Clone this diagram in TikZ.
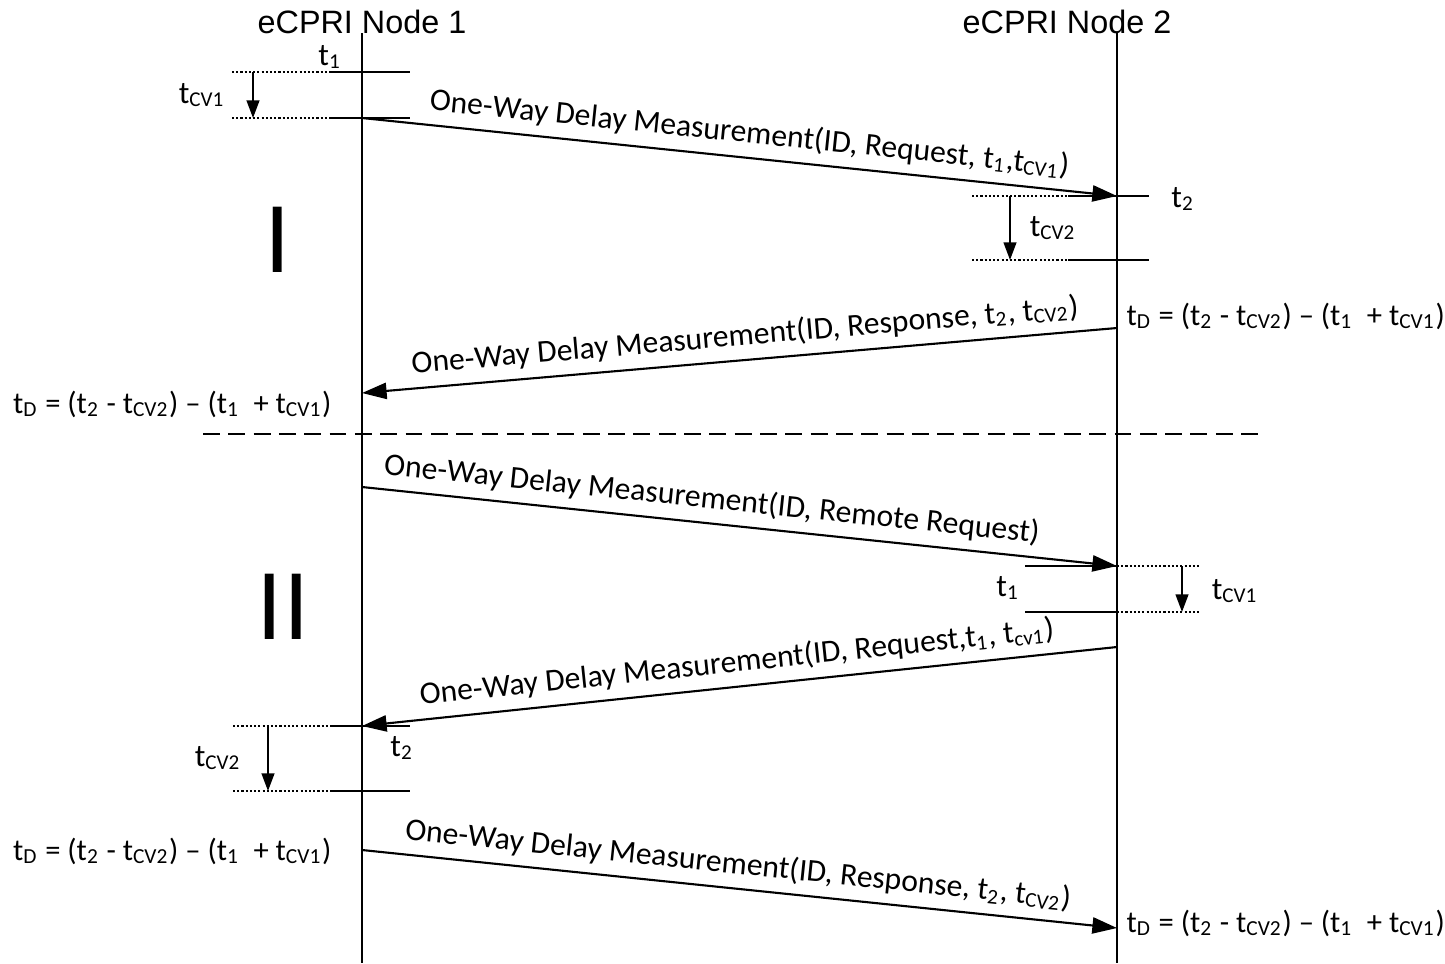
\documentclass[tikz,border=0pt]{standalone}
\usepackage{fontspec}
\setmainfont{Carlito}
\newfontfamily\headfont{Liberation Sans}
\usetikzlibrary{arrows.meta}

\newcommand{\tsub}[1]{t\textsubscript{#1}}
\newcommand{\tdelay}{\tsub{D} = (\tsub{2} - \tsub{CV2}) \textendash{} (\tsub{1}\ \ + \tsub{CV1})}

\begin{document}
\begin{tikzpicture}[x=0.01cm, y=-0.01cm, line width=0.6pt,
    every node/.style={font=\fontsize{9}{10}\selectfont, inner sep=1pt},
    msg/.style={-{Triangle[length=7pt, width=4.6pt]}},
    delay/.style={-{Triangle[length=5pt, width=3.6pt]}},
    guide/.style={line width=0.4pt, dash pattern=on 0.6pt off 0.6pt},
    head/.style={font=\headfont\fontsize{9.2}{10}\selectfont},
    result/.style={font=\fontsize{8.7}{10}\selectfont},
    phase/.style={font=\headfont\fontsize{27}{27}\selectfont, inner sep=0pt}]
    \useasboundingbox (0,0) rectangle (1445,963);

    % lifelines
    \node[head] (node1) at (362,22) {eCPRI Node 1};
    \node[head] (node2) at (1067,22) {eCPRI Node 2};
    \coordinate (n1top) at (362,33);
    \coordinate (n1bot) at (362,963);
    \coordinate (n2top) at (1117,33);
    \coordinate (n2bot) at (1117,963);
    \draw (n1top) -- (n1bot);
    \draw (n2top) -- (n2bot);

    % phase I
    \node[phase] (ph1) at (278,240) {I};
    \draw[guide] (232,72) -- (330,72);
    \draw (330,72) -- (410,72);
    \draw[guide] (232,118) -- (330,118);
    \draw (330,118) -- (410,118);
    \coordinate (cv1a) at (253,72);
    \coordinate (cv1b) at (253,118);
    \draw[delay] (cv1a) -- (cv1b);
    \node (t1a) at (330,57) {\tsub{1}};
    \node (tcv1a) at (202,95) {\tsub{CV1}};

    \coordinate (req1) at (362,118);
    \coordinate (req2) at (1117,196);
    \draw[msg] (req1) -- node[pos=0.51, sloped, above, inner sep=2.5pt] (lreq) {One-Way Delay Measurement(ID, Request, \tsub{1},\tsub{CV1})} (req2);

    \draw[guide] (972,196) -- (1068,196);
    \draw (1068,196) -- (1149,196);
    \draw[guide] (972,260) -- (1068,260);
    \draw (1068,260) -- (1149,260);
    \coordinate (cv2a) at (1010,196);
    \coordinate (cv2b) at (1010,260);
    \draw[delay] (cv2a) -- (cv2b);
    \node (t2a) at (1183,199) {\tsub{2}};
    \node (tcv2a) at (1053,228) {\tsub{CV2}};

    \coordinate (resp2) at (1117,328);
    \coordinate (resp1) at (362,393);
    \draw[msg] (resp2) -- node[pos=0.49, sloped, above, inner sep=2.5pt] (lresp) {One-Way Delay Measurement(ID, Response, \tsub{2}, \tsub{CV2})} (resp1);
    \node[result, anchor=west] (tdr1) at (1122,316) {\tdelay};
    \node[result, anchor=east] (tdl1) at (336,404) {\tdelay};

    % separator
    \draw[dash pattern=on 4.8pt off 2.4pt] (203,434) -- (1265,434);

    % phase II
    \node[phase] (ph2) at (283,607) {II};
    \coordinate (rreq1) at (362,487);
    \coordinate (rreq2) at (1117,566);
    \draw[msg] (rreq1) -- node[pos=0.46, sloped, above, inner sep=2.5pt] (lrreq) {One-Way Delay Measurement(ID, Remote Request)} (rreq2);

    \draw (1025,566) -- (1117,566);
    \draw[guide] (1117,566) -- (1199,566);
    \draw (1025,612) -- (1117,612);
    \draw[guide] (1117,612) -- (1199,612);
    \coordinate (cv1c) at (1182,566);
    \coordinate (cv1d) at (1182,612);
    \draw[delay] (cv1c) -- (cv1d);
    \node (t1b) at (1008,588) {\tsub{1}};
    \node (tcv1b) at (1235,591) {\tsub{CV1}};

    \coordinate (req3) at (1117,647);
    \coordinate (req4) at (362,726);
    \draw[msg] (req3) -- node[pos=0.5, sloped, above, inner sep=2.5pt] (lreq2) {One-Way Delay Measurement(ID, Request,\tsub{1}, \tsub{cv1})} (req4);

    \draw[guide] (233,726) -- (330,726);
    \draw (330,726) -- (410,726);
    \draw[guide] (233,791) -- (330,791);
    \draw (330,791) -- (410,791);
    \coordinate (cv2c) at (268,726);
    \coordinate (cv2d) at (268,791);
    \draw[delay] (cv2c) -- (cv2d);
    \node (t2b) at (402,748) {\tsub{2}};
    \node (tcv2b) at (218,758) {\tsub{CV2}};

    \node[result, anchor=east] (tdl2) at (336,851) {\tdelay};
    \coordinate (resp3) at (362,850);
    \coordinate (resp4) at (1117,928);
    \draw[msg] (resp3) -- node[pos=0.495, sloped, above, inner sep=2.5pt] (lresp2) {One-Way Delay Measurement(ID, Response, \tsub{2}, \tsub{CV2})} (resp4);
    \node[result, anchor=west] (tdr2) at (1122,923) {\tdelay};
\end{tikzpicture}
\end{document}
